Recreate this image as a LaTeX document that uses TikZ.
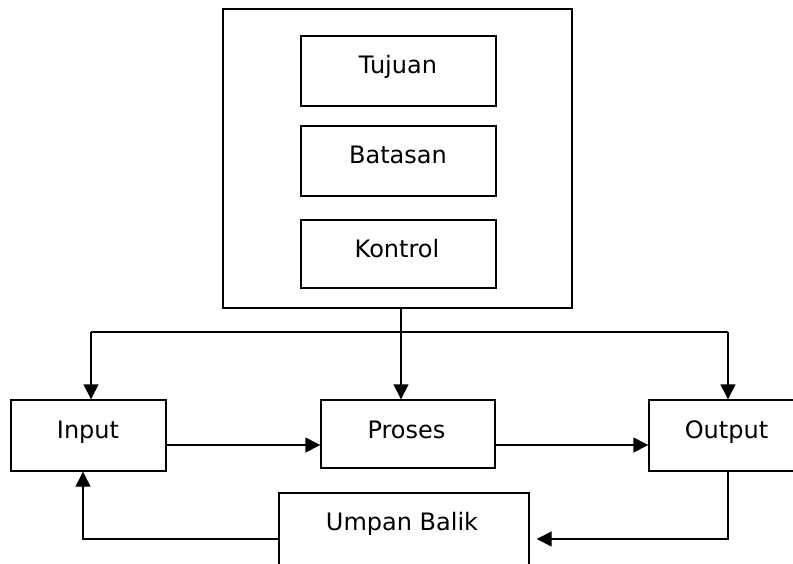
\documentclass[tikz,border=0pt]{standalone}
\usepackage{fontspec}
\setmainfont{DejaVu Sans}
\usetikzlibrary{arrows.meta}
\tikzset{
  box/.style={draw, line width=1.4pt, inner sep=0pt},
  lbl/.style={anchor=base, inner sep=0pt, font=\fontsize{24}{28}\selectfont},
  conn/.style={line width=1.4pt},
  arr/.style={line width=1.4pt, -{Triangle[width=15pt,length=15pt]}}
}
\begin{document}
\begin{tikzpicture}[x=1pt,y=-1pt]
\useasboundingbox (0,0) rectangle (793,563);
\clip (0,0) rectangle (793,563);
% boxes
\node[box, minimum width=349pt, minimum height=299pt] (sys) at (397.5,158.5) {};
\node[box, minimum width=195pt, minimum height=70pt] (tujuan) at (398.5,71) {};
\node[box, minimum width=195pt, minimum height=70pt] (batasan) at (398.5,161) {};
\node[box, minimum width=195pt, minimum height=68pt] (kontrol) at (398.5,254) {};
\node[box, minimum width=155pt, minimum height=71pt] (input) at (88.5,435.5) {};
\node[box, minimum width=174pt, minimum height=68pt] (proses) at (408,434) {};
\node[box, minimum width=155pt, minimum height=71pt] (output) at (726.5,435.5) {};
\node[box, minimum width=250pt, minimum height=76pt] (umpan) at (404,531) {};
% labels
\node[lbl] (tTujuan) at (398,73) {Tujuan};
\node[lbl] (tBatasan) at (398,163) {Batasan};
\node[lbl] (tKontrol) at (397,257) {Kontrol};
\node[lbl] (tInput) at (88,438) {Input};
\node[lbl] (tProses) at (406.5,438) {Proses};
\node[lbl] (tOutput) at (726.5,438) {Output};
\node[lbl] (tUmpan) at (402,530) {Umpan Balik};
% connector points
\coordinate (j) at (401,332);
\coordinate (jl) at (91,332);
\coordinate (jr) at (728,332);
\coordinate (ya) at (0,445);
\coordinate (fb) at (0,539);
\coordinate (xl) at (83,0);
% connectors
\draw[conn] (sys.south -| j) -- (j);
\draw[conn] (jl) -- (jr);
\draw[arr] (jl) -- (input.north -| jl);
\draw[arr] (j) -- (proses.north -| j);
\draw[arr] (jr) -- (output.north -| jr);
\draw[arr] (input.east |- ya) -- (proses.west |- ya);
\draw[arr] (proses.east |- ya) -- (output.west |- ya);
\draw[arr, shorten >=7pt] (output.south -| jr) |- (umpan.east |- fb);
\draw[arr] (umpan.west |- fb) -| (input.south -| xl);
\end{tikzpicture}
\end{document}
